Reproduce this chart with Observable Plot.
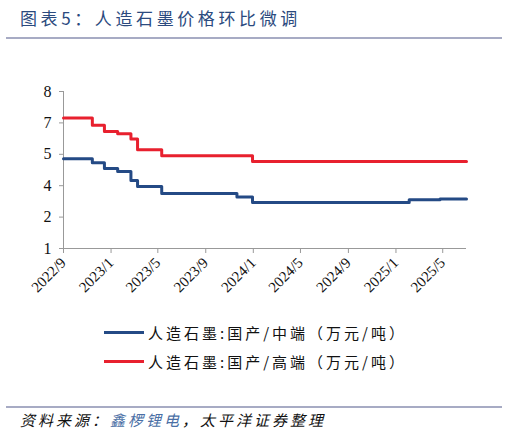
<!DOCTYPE html>
<html>
<head>
<meta charset="utf-8">
<script src="https://cdn.jsdelivr.net/npm/d3@7"></script>
<script src="https://cdn.jsdelivr.net/npm/@observablehq/plot@0.6"></script>
<style>
  body { margin: 0; background: #fff; }
  #wrap { position: relative; width: 507px; height: 434px; overflow: hidden; }
  #chart { position: absolute; left: 0; top: 0; }
  #chart svg text { font-family: "Liberation Serif", "Times New Roman", "DejaVu Serif", serif !important; fill: #111; }
  .title { position: absolute; left: 20px; top: 5px; font: 17px "Noto Sans CJK SC"; color: #2b4a7e; letter-spacing: 3.6px; }
  .rule { position: absolute; left: 6px; width: 496px; height: 2px; background: #a7abc4; }
  .legend { position: absolute; left: 104px; font: 15px "Noto Sans CJK SC"; color: #111; letter-spacing: 3px; display: flex; align-items: center; }
  .legend span.sw { display: inline-block; width: 40px; height: 3px; margin-right: 4px; }
  .source { position: absolute; left: 20px; top: 409px; font: italic 15px "Noto Sans CJK SC"; color: #111; letter-spacing: 3px; }
  .source b { font-weight: normal; color: #4a6fa5; }
</style>
</head>
<body>
<div id="wrap">
  <div id="chart"></div>
  <div class="title">图表5：人造石墨价格环比微调</div>
  <div class="rule" style="top:37px"></div>
  <div class="legend" style="top:322px"><span class="sw" style="background:#244a85"></span>人造石墨:国产/中端（万元/吨）</div>
  <div class="legend" style="top:351px"><span class="sw" style="background:#e8202e"></span>人造石墨:国产/高端（万元/吨）</div>
  <div class="rule" style="top:406px"></div>
  <div class="source">资料来源：<b>鑫椤锂电</b>，太平洋证券整理</div>
</div>
<script>
// 人造石墨:国产/中端 (万元/吨), change points
const midDates = ["2022-09-01", "2022-11-14", "2022-12-15", "2023-01-18", "2023-02-21", "2023-03-10", "2023-05-11", "2023-11-20", "2023-12-30", "2025-02-04", "2025-04-24", "2025-07-01"];
const midValues = [5.0, 4.82, 4.57, 4.43, 4.03, 3.76, 3.45, 3.30, 3.05, 3.17, 3.21, 3.21];
// 人造石墨:国产/高端 (万元/吨), change points
const highDates = ["2022-09-01", "2022-11-14", "2022-12-15", "2023-01-18", "2023-02-21", "2023-03-10", "2023-05-11", "2023-12-30", "2025-07-01"];
const highValues = [6.82, 6.5, 6.22, 6.12, 5.88, 5.4, 5.14, 4.88, 4.88];

const yTicks = [1, 2.4, 3.8, 5.2, 6.6, 8];
const xTickLabels = ["2022/9", "2023/1", "2023/5", "2023/9", "2024/1", "2024/5", "2024/9", "2025/1", "2025/5"];

const parse = d3.utcParse("%Y-%m-%d");
const mid = midDates.map((d, i) => ({date: parse(d), value: midValues[i]}));
const high = highDates.map((d, i) => ({date: parse(d), value: highValues[i]}));
const xTicks = xTickLabels.map(s => { const [y, m] = s.split("/"); return new Date(Date.UTC(+y, +m - 1, 1)); });
const fmtX = d => `${d.getUTCFullYear()}/${d.getUTCMonth() + 1}`;

const chart = Plot.plot({
  width: 507,
  height: 310,
  marginLeft: 63,
  marginRight: 41,
  marginTop: 91,
  marginBottom: 62,
  style: {background: "transparent", fontFamily: "Liberation Serif", color: "#111"},
  x: {type: "utc", domain: [parse("2022-09-01"), parse("2025-07-01")], label: null},
  y: {domain: [1, 8], label: null},
  marks: [
    Plot.axisY({ticks: yTicks, tickFormat: d3.format(".0f"), tickSize: 4, fontSize: 16, stroke: "#999", tickPadding: 8}),
    Plot.axisX({ticks: xTicks, tickFormat: fmtX, tickRotate: -45, tickSize: 5, fontSize: 15, stroke: "#999"}),
    Plot.ruleX([parse("2022-09-01")], {stroke: "#999"}),
    Plot.ruleY([1], {stroke: "#999"}),
    Plot.line(high, {x: "date", y: "value", stroke: "#e8202e", strokeWidth: 3, curve: "step-after"}),
    Plot.line(mid, {x: "date", y: "value", stroke: "#244a85", strokeWidth: 3, curve: "step-after"})
  ]
});
document.getElementById("chart").append(chart);
</script>
</body>
</html>
